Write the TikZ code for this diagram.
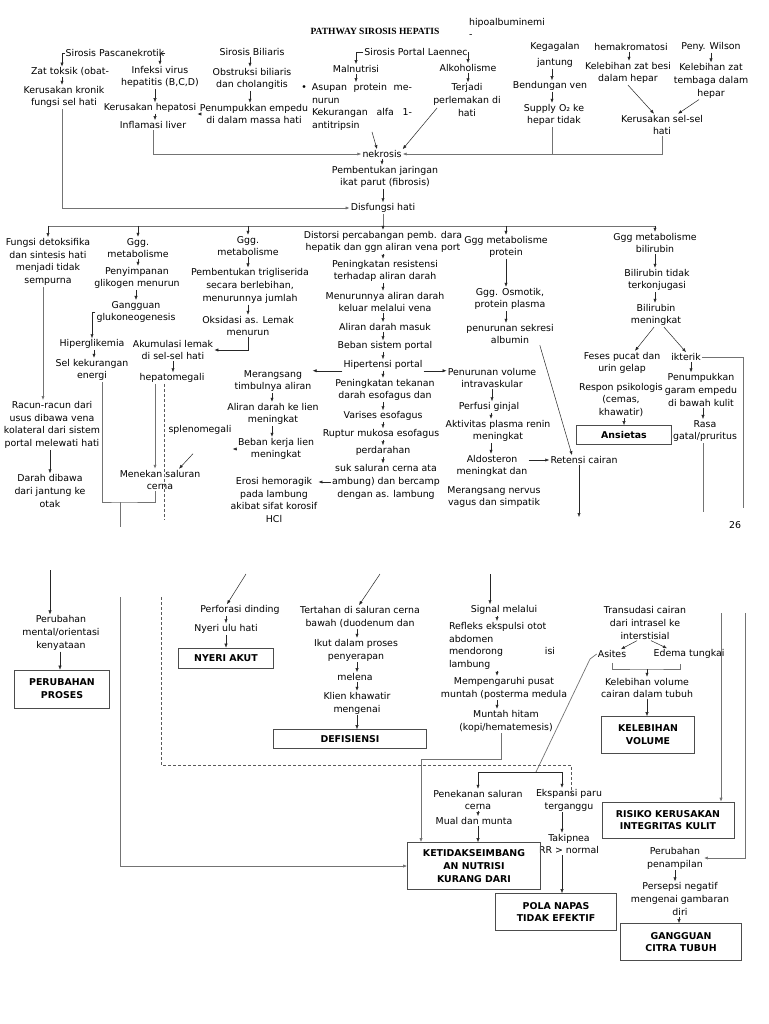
\documentclass[tikz,border=0pt]{standalone}
\usepackage{fontspec}
\setmainfont{DejaVu Sans}
\newfontfamily\judul{Liberation Serif}
\usetikzlibrary{arrows.meta}
\setlength{\parindent}{0pt}

\begin{document}
\begin{tikzpicture}[x=1pt,y=-1pt,
  txt/.style={font=\fontsize{9.4}{12.8}\selectfont, align=center, inner sep=1pt},
  kotak/.style={draw=black!70, line width=0.6pt, font=\fontsize{9.4}{12.8}\selectfont\bfseries, align=center, inner sep=1pt},
  panah/.style={-{Latex[length=4pt,width=3.2pt]}, black!85, line width=0.5pt},
  garis/.style={black!55, line width=0.7pt},
  garispanah/.style={garis, -{Latex[length=4pt,width=3.2pt]}},
  putus/.style={black!65, line width=0.6pt, dash pattern=on 3pt off 2pt}]
  \fill[white] (0,0) rectangle (768,1024);
  \useasboundingbox (0,0) rectangle (768,1024);

  \node[txt, font=\judul\bfseries\fontsize{9.5}{11}\selectfont] (judul) at (375,31) {PATHWAY SIROSIS HEPATIS};
  \node[txt, align=left] (hipo) at (507,28) {hipoalbuminemi\\-};

  \node[txt] (pasca) at (115,53) {Sirosis Pascanekrotik};
  \node[txt] (zat) at (70,72) {Zat toksik (obat-};
  \node[txt] (kronik) at (64,97) {Kerusakan kronik\\fungsi sel hati};
  \node[txt] (infeksi) at (160,77) {Infeksi virus\\hepatitis (B,C,D)};
  \node[txt] (hepatosi) at (150,108) {Kerusakan hepatosi};
  \node[txt] (inflamasi) at (153,125) {Inflamasi liver};
  \node[txt] (biliaris) at (252,52) {Sirosis Biliaris};
  \node[txt] (obstruksi) at (252,79) {Obstruksi biliaris\\dan cholangitis};
  \node[txt] (empedu) at (254,114) {Penumpukkan empedu\\di dalam massa hati};
  \node[txt] (laennec) at (416,52) {Sirosis Portal Laennec};
  \node[txt] (malnutrisi) at (356,69) {Malnutrisi};
  \node[txt, text width=100pt, align=justify] (asupan) at (362,107) {\makebox[0pt][r]{\textbullet\hspace{5pt}}Asupan protein me-\linebreak nurun\\Kekurangan alfa 1-\linebreak antitripsin};
  \node[txt] (alkohol) at (468,68) {Alkoholisme};
  \node[txt] (perlemakan) at (467,100) {Terjadi\\perlemakan di\\hati};
  \node[txt] (gagal) at (555,55) {Kegagalan\\[3pt]jantung};
  \node[txt] (bendungan) at (550,86) {Bendungan ven};
  \node[txt] (supply) at (554,115) {Supply O₂ ke\\hepar tidak};
  \node[txt] (hemak) at (631,47) {hemakromatosi};
  \node[txt] (besi) at (628,73) {Kelebihan zat besi\\dalam hepar};
  \node[txt] (wilson) at (711,47) {Peny. Wilson};
  \node[txt] (tembaga) at (711,81) {Kelebihan zat\\tembaga dalam\\hepar};
  \node[txt] (selsel) at (662,125) {Kerusakan sel-sel\\hati};
  \node[txt] (nekrosis) at (382,154) {nekrosis};
  \node[txt] (fibrosis) at (385,177) {Pembentukan jaringan\\ikat parut (fibrosis)};
  \node[txt] (disfungsi) at (383,208) {Disfungsi hati};
  \coordinate (bar) at (383,226);

  \node[txt] (detoks) at (48,262) {Fungsi detoksifika\\dan sintesis hati\\menjadi tidak\\sempurna};
  \node[txt] (karbo) at (138,248) {Ggg.\\metabolisme};
  \node[txt] (glikogen) at (137,278) {Penyimpanan\\glikogen menurun};
  \node[txt] (gangguan) at (136,312) {Gangguan\\glukoneogenesis};
  \node[txt] (hiperglik) at (92,344) {Hiperglikemia};
  \node[txt] (energi) at (92,370) {Sel kekurangan\\energi};
  \node[txt] (akumulasi) at (173,350) {Akumulasi lemak\\di sel-sel hati};
  \node[txt] (hepato) at (172,378) {hepatomegali};
  \node[txt] (spleno) at (200,430) {splenomegali};
  \node[txt] (menekan) at (160,480) {Menekan saluran\\cerna};
  \node[txt] (racun) at (52,425) {Racun-racun dari\\usus dibawa vena\\kolateral dari sistem\\portal melewati hati};
  \node[txt] (darah) at (50,491) {Darah dibawa\\dari jantung ke\\otak};
  \node[txt] (lemak) at (248,246) {Ggg.\\metabolisme};
  \node[txt] (trigli) at (250,286) {Pembentukan trigliserida\\secara berlebihan,\\menurunnya jumlah};
  \node[txt] (oksidasi) at (248,326) {Oksidasi as. Lemak\\menurun};
  \node[txt] (merangsang) at (273,381) {Merangsang\\timbulnya aliran};
  \node[txt] (lien) at (273,414) {Aliran darah ke lien\\meningkat};
  \node[txt] (bebanlien) at (276,449) {Beban kerja lien\\meningkat};
  \node[txt] (erosi) at (274,500) {Erosi hemoragik\\pada lambung\\akibat sifat korosif\\HCl};
  \node[txt] (distorsi) at (383,242) {Distorsi percabangan pemb. dara\\hepatik dan ggn aliran vena port};
  \node[txt] (resistensi) at (385,271) {Peningkatan resistensi\\terhadap aliran darah};
  \node[txt] (menurunnya) at (385,302) {Menurunnya aliran darah\\keluar melalui vena};
  \node[txt] (masuk) at (385,327) {Aliran darah masuk};
  \node[txt] (bebanportal) at (385,346) {Beban sistem portal};
  \node[txt] (hipertensi) at (383,365) {Hipertensi portal};
  \node[txt] (tekanan) at (385,390) {Peningkatan tekanan\\darah esofagus dan};
  \node[txt] (varises) at (383,416) {Varises esofagus};
  \node[txt] (ruptur) at (381,434) {Ruptur mukosa esofagus};
  \node[txt] (perdarahan) at (383,451) {perdarahan};
  \node[txt] (lambungmix) at (386,482) {suk saluran cerna ata\\ambung) dan bercamp\\dengan as. lambung};
  \node[txt] (penurunanvol) at (492,378) {Penurunan volume\\intravaskular};
  \node[txt] (perfusi) at (489,407) {Perfusi ginjal};
  \node[txt] (renin) at (498,431) {Aktivitas plasma renin\\meningkat};
  \node[txt] (aldosteron) at (492,466) {Aldosteron\\meningkat dan};
  \node[txt] (nervus) at (494,497) {Merangsang nervus\\vagus dan simpatik};
  \node[txt] (protein) at (506,247) {Ggg metabolisme\\protein};
  \node[txt] (osmotik) at (510,299) {Ggg. Osmotik,\\protein plasma};
  \node[txt] (albumin) at (510,334) {penurunan sekresi\\albumin};
  \node[txt] (retensi) at (584,460) {Retensi cairan};
  \node[txt] (bilirubin) at (655,243) {Ggg metabolisme\\bilirubin};
  \node[txt] (terkonj) at (657,280) {Bilirubin tidak\\terkonjugasi};
  \node[txt] (bilimen) at (656,315) {Bilirubin\\meningkat};
  \node[txt] (feses) at (622,363) {Feses pucat dan\\urin gelap};
  \node[txt] (ikterik) at (686,357) {ikterik};
  \node[txt] (respon) at (621,400) {Respon psikologis\\(cemas,\\khawatir)};
  \node[kotak, minimum width=95pt, minimum height=19pt] (ansietas) at (624,435) {Ansietas};
  \node[txt] (garam) at (701,390) {Penumpukkan\\garam empedu\\di bawah kulit};
  \node[txt] (rasa) at (705,431) {Rasa\\gatal/pruritus};
  \node[txt] (halaman) at (735,525) {26};

  \node[txt] (perubahanmental) at (61,633) {Perubahan\\mental/orientasi\\kenyataan};
  \node[kotak, minimum width=95pt, minimum height=38pt] (pikir) at (62,689) {PERUBAHAN\\PROSES};
  \node[txt] (perforasi) at (240,610) {Perforasi dinding};
  \node[txt] (nyeri) at (226,629) {Nyeri ulu hati};
  \node[kotak, minimum width=95pt, minimum height=20pt] (nyeriakut) at (226,658) {NYERI AKUT};
  \node[txt] (tertahan) at (360,617) {Tertahan di saluran cerna\\bawah (duodenum dan};
  \node[txt] (ikut) at (356,650) {Ikut dalam proses\\penyerapan};
  \node[txt] (melena) at (355,677) {melena};
  \node[txt] (klien) at (357,703) {Klien khawatir\\mengenai};
  \node[kotak, minimum width=153pt, minimum height=19pt] (defisiensi) at (350,739) {DEFISIENSI};
  \node[txt] (signal) at (504,610) {Signal melalui};
  \node[txt, text width=106pt, align=left] (refleks) at (502,646) {Refleks ekspulsi otot\\abdomen\\mendorong\hfill isi\\lambung};
  \node[txt] (mempengaruhi) at (504,688) {Mempengaruhi pusat\\muntah (posterma medula};
  \node[txt] (muntah) at (506,721) {Muntah hitam\\(kopi/hematemesis)};
  \node[txt] (transudasi) at (645,623) {Transudasi cairan\\dari intrasel ke\\interstisial};
  \node[txt] (asites) at (612,654) {Asites};
  \node[txt] (edema) at (689,654) {Edema tungkai};
  \node[txt] (kelvol) at (647,688) {Kelebihan volume\\cairan dalam tubuh};
  \node[kotak, minimum width=93pt, minimum height=37pt] (kelvolbox) at (648,735) {KELEBIHAN\\VOLUME};
  \node[txt] (penekanan) at (478,800) {Penekanan saluran\\cerna};
  \node[txt] (mual) at (474,821) {Mual dan munta};
  \node[txt] (ekspansi) at (569,800) {Ekspansi paru\\terganggu};
  \node[txt] (takipnea) at (569,844) {Takipnea\\RR > normal};
  \node[kotak, minimum width=133pt, minimum height=47pt] (nutrisi) at (474,866) {KETIDAKSEIMBANG\\AN NUTRISI\\KURANG DARI};
  \node[kotak, minimum width=121pt, minimum height=37pt] (pola) at (556,912) {POLA NAPAS\\TIDAK EFEKTIF};
  \node[kotak, minimum width=132pt, minimum height=36pt] (risiko) at (668,820) {RISIKO KERUSAKAN\\INTEGRITAS KULIT};
  \node[txt] (penampilan) at (675,858) {Perubahan\\penampilan};
  \node[txt] (persepsi) at (680,899) {Persepsi negatif\\mengenai gambaran\\diri};
  \node[kotak, minimum width=121pt, minimum height=37pt] (citra) at (681,942) {GANGGUAN\\CITRA TUBUH};

  \coordinate (gabung) at (120,502);
  \coordinate (putus1) at (120,527);
  \coordinate (sambung1) at (120,597);
  \coordinate (putus2) at (164,520);
  \coordinate (sambung2) at (161,597);
  \coordinate (belok2) at (571,765);
  \coordinate (ujung2) at (571,795);
  \coordinate (dariDarah) at (50,570);
  \coordinate (dariErosi) at (246,574);
  \coordinate (dariLambung) at (380,574);
  \coordinate (dariNervus) at (490,574);
  \coordinate (putus4) at (579,517);
  \coordinate (putus5) at (743,508);
  \coordinate (sambung5) at (745,613);
  \coordinate (putus6) at (703,512);
  \coordinate (sambung6) at (721,613);
  \coordinate (belok7) at (421,759);
  \coordinate (kurung) at (647,669);
  \coordinate (siku) at (590,659);
  \coordinate (cabang) at (536,772);

  \draw[panah] (pasca.west) -| ([xshift=-8pt]zat.north);
  \draw[panah] (pasca.east) -| (infeksi.north);
  \draw[panah] ([xshift=-8pt]zat.south) -- ([xshift=-8pt]zat.south |- kronik.north);
  \draw[panah] ([xshift=-5pt]infeksi.south) -- ([xshift=-5pt]infeksi.south |- hepatosi.north);
  \draw[panah] ([xshift=5pt]hepatosi.south) -- ([xshift=5pt]hepatosi.south |- inflamasi.north);
  \draw[panah] ([xshift=-2pt]biliaris.south) -- ([xshift=-2pt]biliaris.south |- obstruksi.north);
  \draw[panah] ([xshift=-2pt]obstruksi.south) -- ([xshift=-2pt]obstruksi.south |- empedu.north);
  \draw[panah] (empedu.west) -- (empedu.west -| hepatosi.east);
  \draw[garispanah] (inflamasi.south) |- (nekrosis.west);
  \draw[panah] (laennec.west) -| (malnutrisi.north);
  \draw[panah] (laennec.east) -| (alkohol.north);
  \draw[panah] (malnutrisi.south) -- (malnutrisi.south |- asupan.north);
  \draw[panah] ([xshift=10pt]asupan.south) -- ([xshift=-5pt]nekrosis.north);
  \draw[panah] (alkohol.south) -- (alkohol.south |- perlemakan.north);
  \draw[panah] ([xshift=5pt,yshift=-8pt]perlemakan.west) -- (nekrosis.north east);
  \draw[panah] ([xshift=-3pt]gagal.south) -- ([xshift=-3pt]gagal.south |- bendungan.north);
  \draw[panah] ([xshift=2pt]bendungan.south) -- ([xshift=2pt]bendungan.south |- supply.north);
  \draw[panah] ([xshift=-2pt]hemak.south) -- ([xshift=-2pt]hemak.south |- besi.north);
  \draw[panah] (wilson.south) -- (wilson.south |- tembaga.north);
  \draw[panah] (besi.south) -- ([xshift=-8pt]selsel.north);
  \draw[panah] ([xshift=-12pt]tembaga.south) -- ([xshift=16pt]selsel.north);
  \draw[garispanah] ([xshift=-2pt]supply.south) |- (nekrosis.east);
  \draw[garis] (selsel.south) |- ([xshift=-2pt]supply.south |- nekrosis.east);
  \draw[panah] (nekrosis.south) -- (nekrosis.south |- fibrosis.north);
  \draw[panah] ([xshift=-2pt]fibrosis.south) -- ([xshift=-2pt]fibrosis.south |- disfungsi.north);
  \draw[garispanah] ([xshift=-2pt]kronik.south) |- (disfungsi.west);

  \draw[garis] (disfungsi.south) -- (bar);
  \draw[garis] (detoks.north |- bar) -- (bilirubin.north |- bar);
  \draw[panah] (detoks.north |- bar) -- (detoks.north);
  \draw[panah] (karbo.north |- bar) -- (karbo.north);
  \draw[panah] (lemak.north |- bar) -- (lemak.north);
  \draw[panah] (distorsi.north |- bar) -- (distorsi.north);
  \draw[panah] (protein.north |- bar) -- (protein.north);
  \draw[panah] (bilirubin.north |- bar) -- (bilirubin.north);

  \draw[panah] (karbo.south) -- (karbo.south |- glikogen.north);
  \draw[panah] ([xshift=-1pt]glikogen.south) -- ([xshift=-1pt]glikogen.south |- gangguan.north);
  \draw[panah] (gangguan.west) -| (hiperglik.north);
  \draw[panah] ([xshift=2pt]hiperglik.south) -- ([xshift=2pt]hiperglik.south |- energi.north);
  \draw[garis] ([xshift=10pt]energi.south) |- (gabung) -| ([xshift=-5pt]menekan.south);
  \draw[garis] (gabung) -- (putus1);
  \draw[garispanah] (sambung1) |- (nutrisi.west);
  \draw[garispanah] ([xshift=-5pt]detoks.south) -- ([xshift=-5pt]detoks.south |- racun.north);
  \draw[panah] ([xshift=-2pt]racun.south) -- ([xshift=-2pt]racun.south |- darah.north);
  \draw[panah] (dariDarah) -- (dariDarah |- perubahanmental.north);
  \draw[panah] ([xshift=-1pt]perubahanmental.south) -- ([xshift=-1pt]perubahanmental.south |- pikir.north);

  \draw[panah] (lemak.south) -- (lemak.south |- trigli.north);
  \draw[panah] ([xshift=-2pt]trigli.south) -- ([xshift=-2pt]trigli.south |- oksidasi.north);
  \draw[panah] (oksidasi.south) |- (akumulasi.east);
  \draw[panah] (akumulasi.south) -- (akumulasi.south |- hepato.north);
  \draw[garispanah] ([xshift=-17pt]hepato.south) -- ([xshift=-17pt]hepato.south |- menekan.north);
  \draw[putus] ([xshift=-8pt]hepato.south) -- (putus2);
  \draw[putus] (sambung2) |- (belok2) -- (ujung2);
  \draw[panah] (bebanlien.west) -- (bebanlien.west -| spleno.east);
  \draw[panah] ([xshift=-7pt,yshift=-18pt]spleno.south) -- ([xshift=19pt]menekan.north);

  \draw[panah] ([xshift=-1pt]merangsang.south) -- ([xshift=-1pt]merangsang.south |- lien.north);
  \draw[panah] ([xshift=-1pt]lien.south) -- ([xshift=-1pt]lien.south |- bebanlien.north);
  \draw[panah] (distorsi.south) -- (distorsi.south |- resistensi.north);
  \draw[panah] ([xshift=-2pt]resistensi.south) -- ([xshift=-2pt]resistensi.south |- menurunnya.north);
  \draw[panah] ([xshift=-2pt]menurunnya.south) -- ([xshift=-2pt]menurunnya.south |- masuk.north);
  \draw[panah] ([xshift=-2pt]masuk.south) -- ([xshift=-2pt]masuk.south |- bebanportal.north);
  \draw[panah] ([xshift=-2pt]bebanportal.south) -- ([xshift=-2pt]bebanportal.south |- hipertensi.north);
  \draw[panah] (hipertensi.south) -- (hipertensi.south |- tekanan.north);
  \draw[panah] ([xshift=-2pt]tekanan.south) -- ([xshift=-2pt]tekanan.south |- varises.north);
  \draw[panah] (varises.south) -- (varises.south |- ruptur.north);
  \draw[panah] ([xshift=2pt]ruptur.south) -- ([xshift=2pt]ruptur.south |- perdarahan.north);
  \draw[panah] (perdarahan.south) -- (perdarahan.south |- lambungmix.north);
  \draw[panah] (hipertensi.south west) -- (hipertensi.south west -| merangsang.east);
  \draw[panah] (hipertensi.south east) -- (hipertensi.south east -| penurunanvol.west);
  \draw[panah] (lambungmix.west) -- (lambungmix.west -| erosi.east);

  \draw[panah] (protein.south) -- (protein.south |- osmotik.north);
  \draw[panah] ([xshift=-4pt]osmotik.south) -- ([xshift=-4pt]osmotik.south |- albumin.north);
  \draw[panah] ([xshift=-15pt]albumin.south east) -- ([xshift=-12pt]retensi.north);
  \draw[panah] (penurunanvol.south) -- (penurunanvol.south |- perfusi.north);
  \draw[panah] ([xshift=2pt]perfusi.south) -- ([xshift=2pt]perfusi.south |- renin.north);
  \draw[panah] ([xshift=-7pt]renin.south) -- ([xshift=-7pt]renin.south |- aldosteron.north);
  \draw[panah] (aldosteron.east |- retensi.west) -- (retensi.west);
  \draw[panah] (retensi.south -| putus4) -- (putus4);

  \draw[panah] (bilirubin.south) -- (bilirubin.south |- terkonj.north);
  \draw[panah] ([xshift=-2pt]terkonj.south) -- ([xshift=-2pt]terkonj.south |- bilimen.north);
  \draw[panah] ([xshift=-2pt]bilimen.south) -- ([xshift=13pt]feses.north);
  \draw[panah] ([xshift=8pt]bilimen.south) -- (ikterik.north);
  \draw[panah] ([xshift=5pt]ikterik.south) -- ([xshift=5pt]ikterik.south |- garam.north);
  \draw[panah] ([xshift=2pt]garam.south) -- ([xshift=2pt]garam.south |- rasa.north);
  \draw[panah] (respon.south -| ansietas.north) -- (ansietas.north);
  \draw[garis] (ikterik.east) -| (putus5);
  \draw[garispanah] (sambung5) |- (penampilan.east);
  \draw[garis] (rasa.south -| putus6) -- (putus6);
  \draw[garispanah] (sambung6) -- (sambung6 |- risiko.north);

  \draw[panah] (dariErosi) -- ([xshift=-13pt]perforasi.north);
  \draw[panah] ([xshift=-14pt]perforasi.south) -- ([xshift=-14pt]perforasi.south |- nyeri.north);
  \draw[panah] (nyeri.south) -- (nyeri.south |- nyeriakut.north);
  \draw[panah] (dariLambung) -- ([xshift=-1pt]tertahan.north);
  \draw[panah] ([xshift=-3pt]tertahan.south) -- ([xshift=-3pt]tertahan.south |- ikut.north);
  \draw[panah] ([xshift=1pt]ikut.south) -- ([xshift=1pt]ikut.south |- melena.north);
  \draw[panah] ([xshift=2pt]melena.south) -- ([xshift=2pt]melena.south |- klien.north);
  \draw[panah] (klien.south) -- (klien.south |- defisiensi.north);
  \draw[panah] (dariNervus) -- (dariNervus |- signal.north);
  \draw[panah] ([xshift=-7pt]signal.south) -- ([xshift=-7pt]signal.south |- refleks.north);
  \draw[panah] ([xshift=-5pt]refleks.south) -- ([xshift=-5pt]refleks.south |- mempengaruhi.north);
  \draw[panah] ([xshift=-7pt]mempengaruhi.south) -- ([xshift=-7pt]mempengaruhi.south |- muntah.north);
  \draw[garispanah] ([xshift=-5pt]muntah.south) |- (belok7) -- (belok7 |- nutrisi.north);

  \draw[panah] ([xshift=-8pt]transudasi.south) -- ([xshift=9pt]asites.north);
  \draw[panah] ([xshift=6pt]transudasi.south) -- ([xshift=-22pt]edema.north);
  \draw[garis] ([yshift=-4pt]asites.south) |- (kurung) -| ([xshift=-9pt,yshift=-4pt]edema.south);
  \draw[panah] (kurung) -- (kurung |- kelvol.north);
  \draw[panah] (kelvol.south) -- (kelvol.south |- kelvolbox.north);
  \draw[garis] (asites.west) -- (siku) -- (cabang);
  \draw[panah] (cabang) -| (penekanan.north);
  \draw[panah] (cabang) -| ([xshift=-7pt]ekspansi.north);
  \draw[panah] (penekanan.south) -- (penekanan.south |- mual.north);
  \draw[panah] ([xshift=4pt]mual.south) -- ([xshift=4pt]mual.south |- nutrisi.north);
  \draw[panah] ([xshift=-7pt]ekspansi.south) -- ([xshift=-7pt]ekspansi.south |- takipnea.north);
  \draw[panah] ([xshift=-7pt]takipnea.south) -- ([xshift=-7pt]takipnea.south |- pola.north);
  \draw[panah] (penampilan.south) -- (penampilan.south |- persepsi.north);
  \draw[panah] ([xshift=-1pt]persepsi.south) -- ([xshift=-1pt]persepsi.south |- citra.north);
\end{tikzpicture}
\end{document}
